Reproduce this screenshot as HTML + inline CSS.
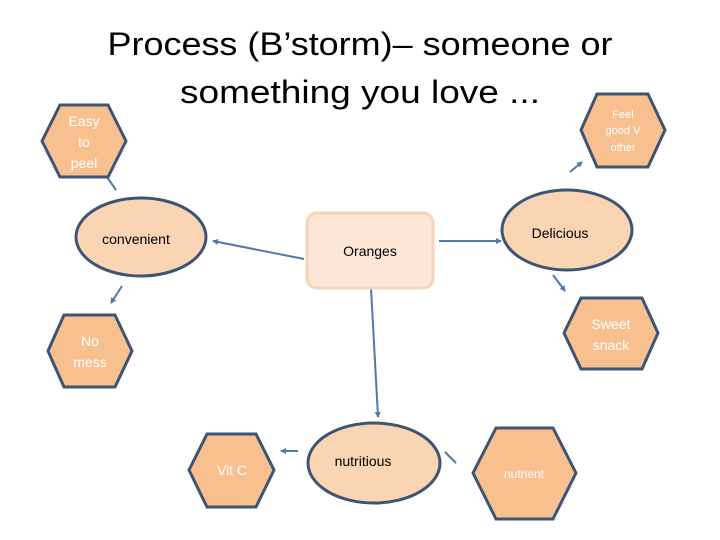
<!DOCTYPE html>
<html><head><meta charset="utf-8"><style>html,body{margin:0;padding:0;background:#fff}svg{display:block}</style></head>
<body>
<svg width="720" height="540" xmlns="http://www.w3.org/2000/svg" font-family="'Liberation Sans', sans-serif">
<defs><marker id="a" markerWidth="6" markerHeight="6" refX="5" refY="3" orient="auto" markerUnits="userSpaceOnUse"><path d="M0,0 L6,3 L0,6 z" fill="#4f7aa8"/></marker></defs>
<rect width="720" height="540" fill="#fff"/>
<text x="360" y="55" font-size="32" text-anchor="middle" textLength="505" lengthAdjust="spacingAndGlyphs" fill="#000">Process (B’storm)– someone or</text>
<text x="360" y="103" font-size="32" text-anchor="middle" textLength="360" lengthAdjust="spacingAndGlyphs" fill="#000">something you love ...</text>
<g stroke="#4f7aa8" stroke-width="2" fill="none">
<line x1="107" y1="177" x2="116" y2="190"/>
<line x1="304" y1="259" x2="213" y2="241" marker-end="url(#a)"/>
<line x1="122" y1="286" x2="111" y2="303" marker-end="url(#a)"/>
<line x1="371" y1="288" x2="378" y2="417" marker-end="url(#a)"/>
<line x1="298" y1="451" x2="281" y2="451" marker-end="url(#a)"/>
<line x1="445" y1="452" x2="456" y2="463"/>
<line x1="439" y1="241" x2="501" y2="241" marker-end="url(#a)"/>
<line x1="570" y1="172" x2="582" y2="162" marker-end="url(#a)"/>
<line x1="553" y1="275" x2="565" y2="291" marker-end="url(#a)"/>
</g>
<g fill="#f8bf8f" stroke="#3d5475" stroke-width="3">
<polygon points="42,141 60,105 108,105 126,141 108,177 60,177"/>
<polygon points="48,351 64,315 115,315 132,351 115,387 64,387"/>
<polygon points="189,470 207,434 256,434 274,470 256,507 207,507"/>
<polygon points="473,473 496,428 553,428 576,473 553,519 496,519"/>
<polygon points="581,130 597,94 648,94 665,130 648,167 597,167"/>
<polygon points="564,333 581,298 642,298 658,333 642,369 581,369"/>
</g>
<g fill="#fad5b4" stroke="#3d5475" stroke-width="3">
<ellipse cx="141" cy="237" rx="65" ry="39"/>
<ellipse cx="374" cy="463" rx="66" ry="40"/>
<ellipse cx="567" cy="230" rx="65" ry="40"/>
</g>
<rect x="307" y="213" width="126" height="75" rx="10" fill="#fce6d6" stroke="#f8d4b6" stroke-width="3"/>
<g font-size="14" fill="#000" text-anchor="middle">
<text x="136" y="244">convenient</text>
<text x="370" y="256">Oranges</text>
<text x="363" y="466">nutritious</text>
<text x="560" y="238">Delicious</text>
</g>
<g fill="#fff" text-anchor="middle">
<text x="84" y="126" font-size="14">Easy</text>
<text x="84" y="147" font-size="14">to</text>
<text x="84" y="168" font-size="14">peel</text>
<text x="90" y="346" font-size="14">No</text>
<text x="90" y="367" font-size="14">mess</text>
<text x="232" y="475" font-size="14">Vit C</text>
<text x="524" y="478" font-size="12">nutrient</text>
<text x="623" y="118" font-size="11">Feel</text>
<text x="623" y="134" font-size="11">good V</text>
<text x="623" y="151" font-size="11">other</text>
<text x="611" y="329" font-size="14">Sweet</text>
<text x="611" y="350" font-size="14">snack</text>
</g>
</svg>
</body></html>
